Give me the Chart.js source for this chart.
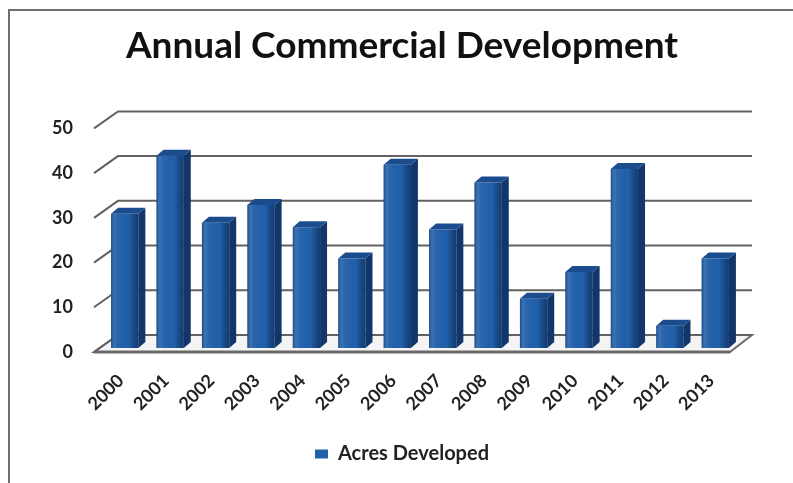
<!DOCTYPE html>
<html>
<head>
<meta charset="utf-8">
<script src="https://cdn.jsdelivr.net/npm/chart.js@4"></script>
<style>
  body { margin: 0; background: #fff; }
  #wrap { position: relative; width: 793px; height: 483px; }
  #frame { position: absolute; left: 8px; top: 9px; right: -4px; bottom: -4px;
           border-left: 2px solid #707070; border-top: 2px solid #707070; pointer-events: none; }
</style>
</head>
<body>
<div id="wrap">
  <canvas id="dev-chart" width="793" height="483"></canvas>
  <div id="frame"></div>
</div>
<script>
// Acres developed per year
const years = ['2000', '2001', '2002', '2003', '2004', '2005', '2006',
               '2007', '2008', '2009', '2010', '2011', '2012', '2013'];
const acres = [30, 43, 28, 32, 27, 20, 41, 26.5, 37, 11, 17, 40, 5, 20];
const yTicks = [0, 10, 20, 30, 40, 50];

const BLUE = '#2160ab';
const FONT = "Lato, 'Open Sans', sans-serif";

// back wall, left wall and floor, drawn behind the columns
const wallPlugin = {
    id: 'walls',
    beforeDatasetsDraw(chart) {
        const { ctx, chartArea: a, scales: { y } } = chart;
        const frontL = a.left - 8, backL = a.left + 16, backR = a.right + 14, frontR = a.right - 8;
        ctx.save();
        // floor
        const z = y.getPixelForValue(0);
        ctx.fillStyle = '#f4f4f4';
        ctx.beginPath();
        ctx.moveTo(frontL, z + 4);
        ctx.lineTo(backL, z - 13);
        ctx.lineTo(backR, z - 13);
        ctx.lineTo(frontR, z + 4);
        ctx.closePath();
        ctx.fill();
        ctx.strokeStyle = '#6a6a6a';
        ctx.lineWidth = 2;
        ctx.stroke();
        ctx.lineWidth = 3;
        ctx.beginPath();
        ctx.moveTo(frontL, z + 4);
        ctx.lineTo(frontR, z + 4);
        ctx.stroke();
        // gridlines on the back wall plus the diagonal on the side wall
        ctx.lineWidth = 2;
        ctx.strokeStyle = '#626262';
        yTicks.forEach(v => {
            const p = y.getPixelForValue(v);
            ctx.beginPath();
            ctx.moveTo(frontL, p + 4);
            ctx.lineTo(backL, p - 13);
            ctx.lineTo(backR, p - 13);
            ctx.stroke();
        });
        ctx.restore();
    }
};

// top and side faces to give the columns depth
const depthPlugin = {
    id: 'depth',
    afterDatasetsDraw(chart) {
        const { ctx } = chart;
        const dx = 7, dy = -6;
        ctx.save();
        chart.getDatasetMeta(0).data.forEach(bar => {
            const l = bar.x - bar.width / 2, r = bar.x + bar.width / 2;
            const t = bar.y, b = bar.base;
            // front shading
            const g = ctx.createLinearGradient(l, 0, r, 0);
            g.addColorStop(0, 'rgba(10,40,90,0.45)');
            g.addColorStop(0.2, 'rgba(255,255,255,0.05)');
            g.addColorStop(0.65, 'rgba(0,0,0,0)');
            g.addColorStop(1, 'rgba(5,25,60,0.5)');
            ctx.fillStyle = g;
            ctx.fillRect(l, t, r - l, b - t);
            // side
            ctx.fillStyle = '#12366a';
            ctx.beginPath();
            ctx.moveTo(r, t);
            ctx.lineTo(r + dx, t + dy);
            ctx.lineTo(r + dx, b + dy);
            ctx.lineTo(r, b);
            ctx.closePath();
            ctx.fill();
            // top
            ctx.fillStyle = '#1b4c8e';
            ctx.beginPath();
            ctx.moveTo(l, t);
            ctx.lineTo(l + dx, t + dy);
            ctx.lineTo(r + dx, t + dy);
            ctx.lineTo(r, t);
            ctx.closePath();
            ctx.fill();
        });
        ctx.restore();
    }
};

new Chart(document.getElementById('dev-chart'), {
    type: 'bar',
    data: {
        labels: years,
        datasets: [{
            label: 'Acres Developed',
            data: acres,
            backgroundColor: BLUE,
            borderWidth: 0,
            barPercentage: 0.6,
            categoryPercentage: 1
        }]
    },
    options: {
        responsive: false,
        animation: false,
        layout: { padding: { left: 20, right: 9, bottom: 9 } },
        plugins: {
            title: {
                display: true,
                text: 'Annual Commercial Development',
                color: '#111',
                font: { family: FONT, size: 37, weight: 'bold' },
                padding: { top: 24, bottom: 56 }
            },
            legend: {
                position: 'bottom',
                labels: {
                    color: '#222',
                    font: { family: FONT, size: 20, weight: 'bold' },
                    boxWidth: 13,
                    boxHeight: 9,
                    padding: 9
                }
            },
            tooltip: { enabled: false }
        },
        scales: {
            x: {
                grid: { display: false, drawTicks: false },
                border: { display: false },
                afterFit(scale) { scale.height = 87; },
                ticks: {
                    color: '#222',
                    font: { family: FONT, size: 18, weight: 'bold' },
                    maxRotation: 45,
                    minRotation: 45,
                    padding: 22,
                    labelOffset: -4
                }
            },
            y: {
                min: 0,
                max: 50,
                grid: { display: false, drawTicks: false },
                border: { display: false },
                afterFit(scale) { scale.width = 82; },
                ticks: {
                    stepSize: 10,
                    color: '#222',
                    font: { family: FONT, size: 18, weight: 'bold' },
                    padding: 29,
                    labelOffset: 4
                }
            },
            // empty right-hand axis, only keeps room for the wall depth
            side: {
                type: 'linear',
                position: 'right',
                grid: { display: false, drawTicks: false },
                border: { display: false },
                ticks: { display: false },
                afterFit(scale) { scale.width = 46; }
            }
        }
    },
    plugins: [wallPlugin, depthPlugin]
});
</script>
</body>
</html>
